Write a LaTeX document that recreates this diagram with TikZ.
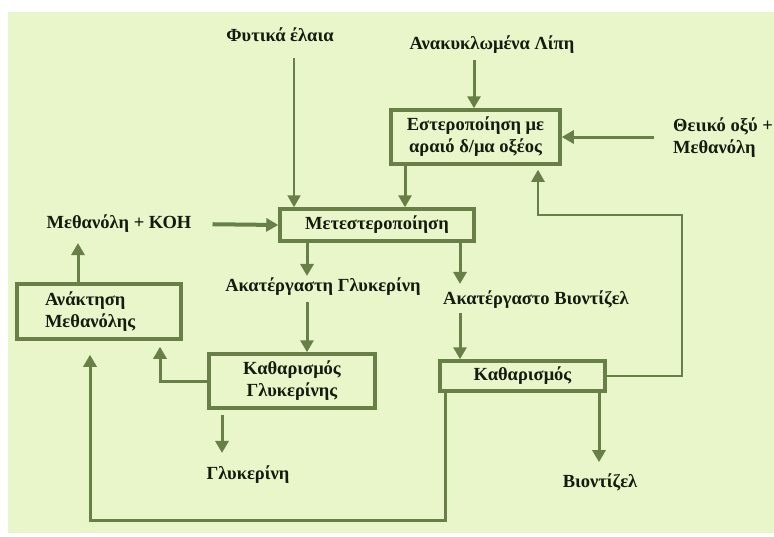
\documentclass[tikz,border=0pt]{standalone}
\usepackage{fontspec}
\setmainfont{Liberation Serif}
\usetikzlibrary{arrows.meta,calc}
\definecolor{bgc}{RGB}{232,246,202}
\definecolor{lnc}{RGB}{104,128,72}
\definecolor{txc}{RGB}{20,26,12}
\begin{document}
\begin{tikzpicture}[x=1pt,y=-1pt,
  lbl/.style={font=\bfseries\fontsize{18.5}{22}\selectfont, text=txc, inner sep=1pt},
  box/.style={draw=lnc, line width=3.5pt, fill=bgc, inner sep=0pt,
    font=\bfseries\fontsize{18.5}{22}\selectfont, text=txc, align=center},
  arr/.style={draw=lnc, line width=3pt, -{Triangle[width=13pt,length=12pt]}},
]
\useasboundingbox (0,0) rectangle (774,536);
\fill[white] (0,0) rectangle (774,536);
\fill[bgc] (8,12) rectangle (774,533);

% boxes
\node[box, minimum width=169pt, minimum height=54pt] (est) at (475.5,137) {Εστεροποίηση με\\αραιό δ/μα οξέος};
\node[box, minimum width=194pt, minimum height=32pt] (met) at (377,225) {Μετεστεροποίηση};
\node[box, minimum width=164pt, minimum height=55pt, text width=108pt, align=left] (anakt) at (99,311.5) {Ανάκτηση\\Μεθανόλης};
\node[box, minimum width=166pt, minimum height=54pt] (kathgly) at (292,381) {Καθαρισμός\\Γλυκερίνης};
\node[box, minimum width=165pt, minimum height=30pt] (kath) at (522.5,376) {Καθαρισμός};

% labels
\node[lbl] (fyt) at (280,35) {Φυτικά έλαια};
\node[lbl] (anak) at (492,45) {Ανακυκλωμένα Λίπη};
\node[lbl, align=left, anchor=west] (thei) at (672,138) {Θειικό οξύ +\\Μεθανόλη};
\node[lbl] (mk) at (119,224) {Μεθανόλη + ΚΟΗ};
\node[lbl] (agly) at (323,287) {Ακατέργαστη Γλυκερίνη};
\node[lbl] (abio) at (536,300) {Ακατέργαστο Βιοντίζελ};
\node[lbl] (gly) at (248,475) {Γλυκερίνη};
\node[lbl] (bio) at (600,482) {Βιοντίζελ};

% helper coordinates
\coordinate (x294) at (294,0);
\coordinate (x474) at (474,0);
\coordinate (x405) at (405,0);
\coordinate (x307) at (307,0);
\coordinate (x460) at (460,0);
\coordinate (x160) at (160,0);
\coordinate (x78) at (78,0);
\coordinate (x222) at (222,0);
\coordinate (x599) at (599,0);
\coordinate (x538) at (538,0);
\coordinate (x90) at (90,0);
\coordinate (r1) at (682,215);
\coordinate (b1) at (445,520);

% connectors
\draw[arr, line width=2pt, shorten <=15pt] (fyt.south -| x294) -- (met.north -| x294);
\draw[arr, shorten <=5pt] (anak.south -| x474) -- (est.north -| x474);
\draw[arr, shorten <=18pt] (thei.west |- est.east) -- (est.east);
\draw[arr] (est.south -| x405) -- (met.north -| x405);
\draw[arr, line width=4pt, shorten <=20pt] (mk.east) -- (met.west);
\draw[arr, shorten >=1pt] (met.south -| x307) -- (agly.north -| x307);
\draw[arr, shorten >=6pt] (met.south -| x460) -- (abio.north -| x460);
\draw[arr, shorten <=5pt] (agly.south -| x307) -- (kathgly.north -| x307);
\draw[arr, shorten <=3pt] (abio.south -| x460) -- (kath.north -| x460);
\draw[arr, shorten >=6pt] (kathgly.west) -- (kathgly.west -| x160) -- (anakt.south -| x160);
\draw[arr, shorten >=9pt] (anakt.north -| x78) -- (mk.south -| x78);
\draw[arr, shorten <=5pt, shorten >=12pt] (kathgly.south -| x222) -- (gly.north -| x222);
\draw[arr, line width=2.5pt, shorten >=4pt] (kath.east) -- (kath.east -| r1) -- (r1) -- (r1 -| x538) -- (est.south -| x538);
\draw[arr, shorten >=14pt] (kath.south -| b1) -- (b1) -- (b1 -| x90) -- (anakt.south -| x90);
\draw[arr, shorten >=10pt] (kath.south -| x599) -- (bio.north -| x599);
\end{tikzpicture}
\end{document}
